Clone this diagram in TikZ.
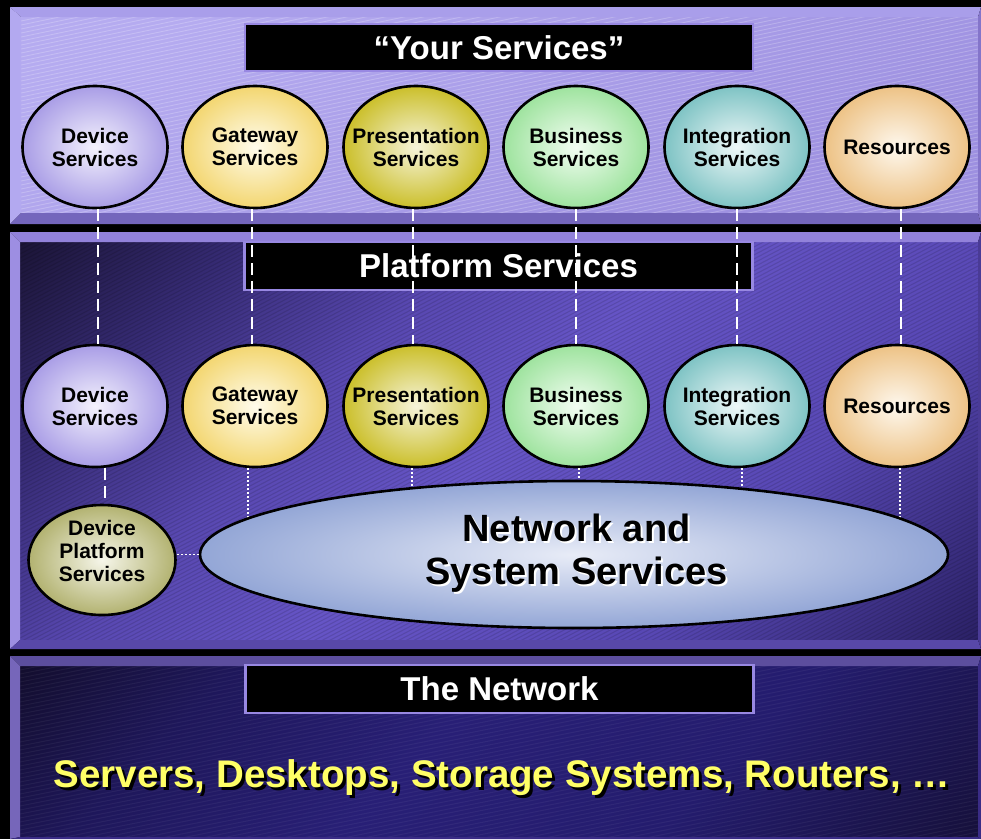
\documentclass[tikz,border=0pt]{standalone}
\usepackage{fontspec}
\setmainfont{Liberation Sans}
\usetikzlibrary{shapes.geometric,calc}
\definecolor{topA}{HTML}{B5ABF0}
\definecolor{topB}{HTML}{9D90E0}
\definecolor{boxline}{HTML}{9888E2}
\definecolor{devO}{HTML}{A99DE6}\definecolor{devI}{HTML}{F4F2FD}
\definecolor{gwO}{HTML}{F3D670}\definecolor{gwI}{HTML}{FFFCEC}
\definecolor{prO}{HTML}{CBBF2A}\definecolor{prI}{HTML}{F6F4DA}
\definecolor{buO}{HTML}{9EE39E}\definecolor{buI}{HTML}{F2FDF2}
\definecolor{inO}{HTML}{7EC3C4}\definecolor{inI}{HTML}{EEF8F8}
\definecolor{reO}{HTML}{EDC285}\definecolor{reI}{HTML}{FEF8EE}
\definecolor{dpO}{HTML}{B2B270}\definecolor{dpI}{HTML}{F6F6EA}
\definecolor{netO}{HTML}{93A6D6}\definecolor{netI}{HTML}{E8ECF7}
\definecolor{yel}{HTML}{FFFF66}
\pgfdeclareverticalshading{midshade}{100bp}{%
  rgb(0bp)=(0.173,0.133,0.408);
  rgb(15bp)=(0.173,0.133,0.408);
  rgb(32bp)=(0.345,0.282,0.706);
  rgb(50bp)=(0.4,0.333,0.776);
  rgb(62bp)=(0.345,0.282,0.69);
  rgb(74bp)=(0.212,0.169,0.455);
  rgb(86bp)=(0.102,0.078,0.204);
  rgb(100bp)=(0.102,0.078,0.204)}
\pgfdeclareverticalshading{botshade}{100bp}{%
  rgb(0bp)=(0.086,0.063,0.235);
  rgb(15bp)=(0.086,0.063,0.235);
  rgb(35bp)=(0.141,0.11,0.431);
  rgb(55bp)=(0.157,0.122,0.463);
  rgb(72bp)=(0.118,0.09,0.353);
  rgb(86bp)=(0.071,0.051,0.173);
  rgb(100bp)=(0.071,0.051,0.173)}
\begin{document}
\begin{tikzpicture}[x=1pt,y=-1pt,
  svc/.style={ellipse, draw=black, line width=2.6pt, minimum width=145pt, minimum height=122pt, inner sep=0pt},
  svctext/.style={align=center, inner sep=0pt, font=\fontsize{21}{23}\selectfont\bfseries, text=black},
  titlebox/.style={fill=black, draw=boxline, line width=2.5pt, minimum width=508pt, minimum height=47pt, inner sep=0pt, text=white, font=\fontsize{33}{36}\selectfont\bfseries},
  dashlink/.style={draw=white, line width=2pt, dash pattern=on 12pt off 6pt},
  dotlink/.style={draw=white, line width=1.6pt, dash pattern=on 2pt off 2pt}
]
\useasboundingbox (0,0) rectangle (981,839);
\fill[black] (0,0) rectangle (981,839);

% ---------- top panel ----------
\shade[top color=topA, bottom color=topB, shading angle=30] (21,17) rectangle (978,213);
\begin{scope}
\clip (21,17) rectangle (978,213);
\foreach \k in {0,4,...,400} \draw[white, opacity=0.22, line width=0.9pt] (21,17+\k) -- (978,\k-183);
\end{scope}
\fill[color={rgb,255:red,169;green,158;blue,234}] (10,7) -- (981,7) -- (978,17) -- (21,17) -- cycle;
\fill[color={rgb,255:red,179;green,169;blue,240}] (10,7) -- (21,17) -- (21,213) -- (10,224) -- cycle;
\fill[color={rgb,255:red,116;green,102;blue,188}] (10,224) -- (21,213) -- (978,213) -- (981,224) -- cycle;
\fill[color={rgb,255:red,132;green,117;blue,202}] (981,7) -- (981,224) -- (978,213) -- (978,17) -- cycle;

% ---------- middle panel ----------
\shade[shading=midshade, shading angle=45] (20,242) rectangle (978,640);
\begin{scope}
\clip (20,242) rectangle (978,640);
\foreach \k in {0,4,...,900} \draw[black, opacity=0.12, line width=1.1pt] (20,242+\k) -- (978,\k-258);
\end{scope}
\fill[color={rgb,255:red,146;green,130;blue,218}] (10,232) -- (981,232) -- (978,242) -- (20,242) -- cycle;
\fill[color={rgb,255:red,157;green,142;blue,226}] (10,232) -- (20,242) -- (20,640) -- (10,649) -- cycle;
\fill[color={rgb,255:red,88;green,72;blue,168}] (10,649) -- (20,640) -- (978,640) -- (981,649) -- cycle;
\fill[color={rgb,255:red,74;green,59;blue,150}] (981,232) -- (981,649) -- (978,640) -- (978,242) -- cycle;

% ---------- bottom panel ----------
\shade[shading=botshade, shading angle=45] (20,666) rectangle (978,837);
\begin{scope}
\clip (20,666) rectangle (978,837);
\foreach \k in {0,4,...,360} \draw[white, opacity=0.05, line width=1pt] (20,666+\k) -- (978,\k+476);
\end{scope}
\fill[color={rgb,255:red,92;green,78;blue,158}] (10,656) -- (981,656) -- (978,666) -- (20,666) -- cycle;
\fill[color={rgb,255:red,118;green,102;blue,186}] (10,656) -- (20,666) -- (20,837) -- (10,839) -- cycle;
\fill[color={rgb,255:red,58;green,44;blue,134}] (10,839) -- (20,837) -- (978,837) -- (981,839) -- cycle;
\fill[color={rgb,255:red,58;green,44;blue,134}] (981,656) -- (981,839) -- (978,837) -- (978,666) -- cycle;

% ---------- title boxes ----------
\node[titlebox] (ttl1) at (499,47.5) {“Your Services”};
\node[titlebox, minimum height=48pt] (ttl2) at (498.5,266) {Platform Services};
\node[titlebox, minimum height=48pt] (ttl3) at (499.5,689) {The Network};

% ---------- middle row circles ----------
\node[svc, inner color=devI, outer color=devO] (m1) at (95,406) {};
\node[svc, inner color=gwI, outer color=gwO] (m2) at (255,406) {};
\node[svc, inner color=prI, outer color=prO] (m3) at (416,406) {};
\node[svc, inner color=buI, outer color=buO] (m4) at (576,406) {};
\node[svc, inner color=inI, outer color=inO] (m5) at (737,406) {};
\node[svc, inner color=reI, outer color=reO] (m6) at (897,406) {};

% dotted links to the network ellipse (ellipse drawn over their ends)
\coordinate (netc) at (574,554.5);
\draw[dotlink] ([xshift=-7pt]m2.south) -- ([xshift=-7pt]m2.south |- netc);
\draw[dotlink] ([xshift=-4pt]m3.south) -- ([xshift=-4pt]m3.south |- netc);
\draw[dotlink] ([xshift=3pt]m4.south) -- ([xshift=3pt]m4.south |- netc);
\draw[dotlink] ([xshift=5pt]m5.south) -- ([xshift=5pt]m5.south |- netc);
\draw[dotlink] ([xshift=3pt]m6.south) -- ([xshift=3pt]m6.south |- netc);

\node[ellipse, draw=black, line width=2.6pt, minimum width=748pt, minimum height=147pt, inner sep=0pt, inner color=netI, outer color=netO] (net) at (netc) {};
\node[align=center, inner sep=0pt, text=white, font=\fontsize{38}{43}\selectfont\bfseries] (netsh) at (578.5,555) {Network and\\System Services};
\node[align=center, inner sep=0pt, text=black, font=\fontsize{38}{43}\selectfont\bfseries] (netl) at (576.5,553) {Network and\\System Services};

% device platform
\node[svc, minimum width=147pt, minimum height=110pt, inner color=dpI, outer color=dpO] (dp) at (102,560) {};
\node[svctext] (dpl) at (102,551) {Device\\Platform\\Services};
\draw[dotlink] (dp.east |- net.west) -- (net.west);
\draw[dashlink] ([xshift=10pt]m1.south) -- ([xshift=3pt]dp.north);

% middle row labels
\node[svctext] (m1l) at (m1) {Device\\Services};
\node[svctext] (m2l) at (m2) {Gateway\\Services};
\node[svctext] (m3l) at (m3) {Presentation\\Services};
\node[svctext] (m4l) at (m4) {Business\\Services};
\node[svctext] (m5l) at (m5) {Integration\\Services};
\node[svctext] (m6l) at (m6) {Resources};

% ---------- top row circles ----------
\node[svc, inner color=devI, outer color=devO] (t1) at (95,147) {};
\node[svc, inner color=gwI, outer color=gwO] (t2) at (255,147) {};
\node[svc, inner color=prI, outer color=prO] (t3) at (416,147) {};
\node[svc, inner color=buI, outer color=buO] (t4) at (576,147) {};
\node[svc, inner color=inI, outer color=inO] (t5) at (737,147) {};
\node[svc, inner color=reI, outer color=reO] (t6) at (897,147) {};
\node[svctext] (t1l) at (t1) {Device\\Services};
\node[svctext] (t2l) at (t2) {Gateway\\Services};
\node[svctext] (t3l) at (t3) {Presentation\\Services};
\node[svctext] (t4l) at (t4) {Business\\Services};
\node[svctext] (t5l) at (t5) {Integration\\Services};
\node[svctext] (t6l) at (t6) {Resources};

% ---------- dashed links top -> middle ----------
\draw[dashlink] ([xshift=3pt]t1.south) -- ([xshift=3pt]m1.north);
\draw[dashlink] ([xshift=-3pt]t2.south) -- ([xshift=-3pt]m2.north);
\draw[dashlink] ([xshift=-3pt]t3.south) -- ([xshift=-3pt]m3.north);
\draw[dashlink] (t4.south) -- (m4.north);
\draw[dashlink] (t5.south) -- (m5.north);
\draw[dashlink] ([xshift=4pt]t6.south) -- ([xshift=4pt]m6.north);

% ---------- bottom text ----------
\node[inner sep=0pt, text=black, font=\fontsize{38.5}{42}\selectfont\bfseries] (srvsh) at (505,781) {Servers, Desktops, Storage Systems, Routers, …};
\node[inner sep=0pt, text=yel, font=\fontsize{38.5}{42}\selectfont\bfseries] (srv) at (502,778) {Servers, Desktops, Storage Systems, Routers, …};
\end{tikzpicture}
\end{document}
